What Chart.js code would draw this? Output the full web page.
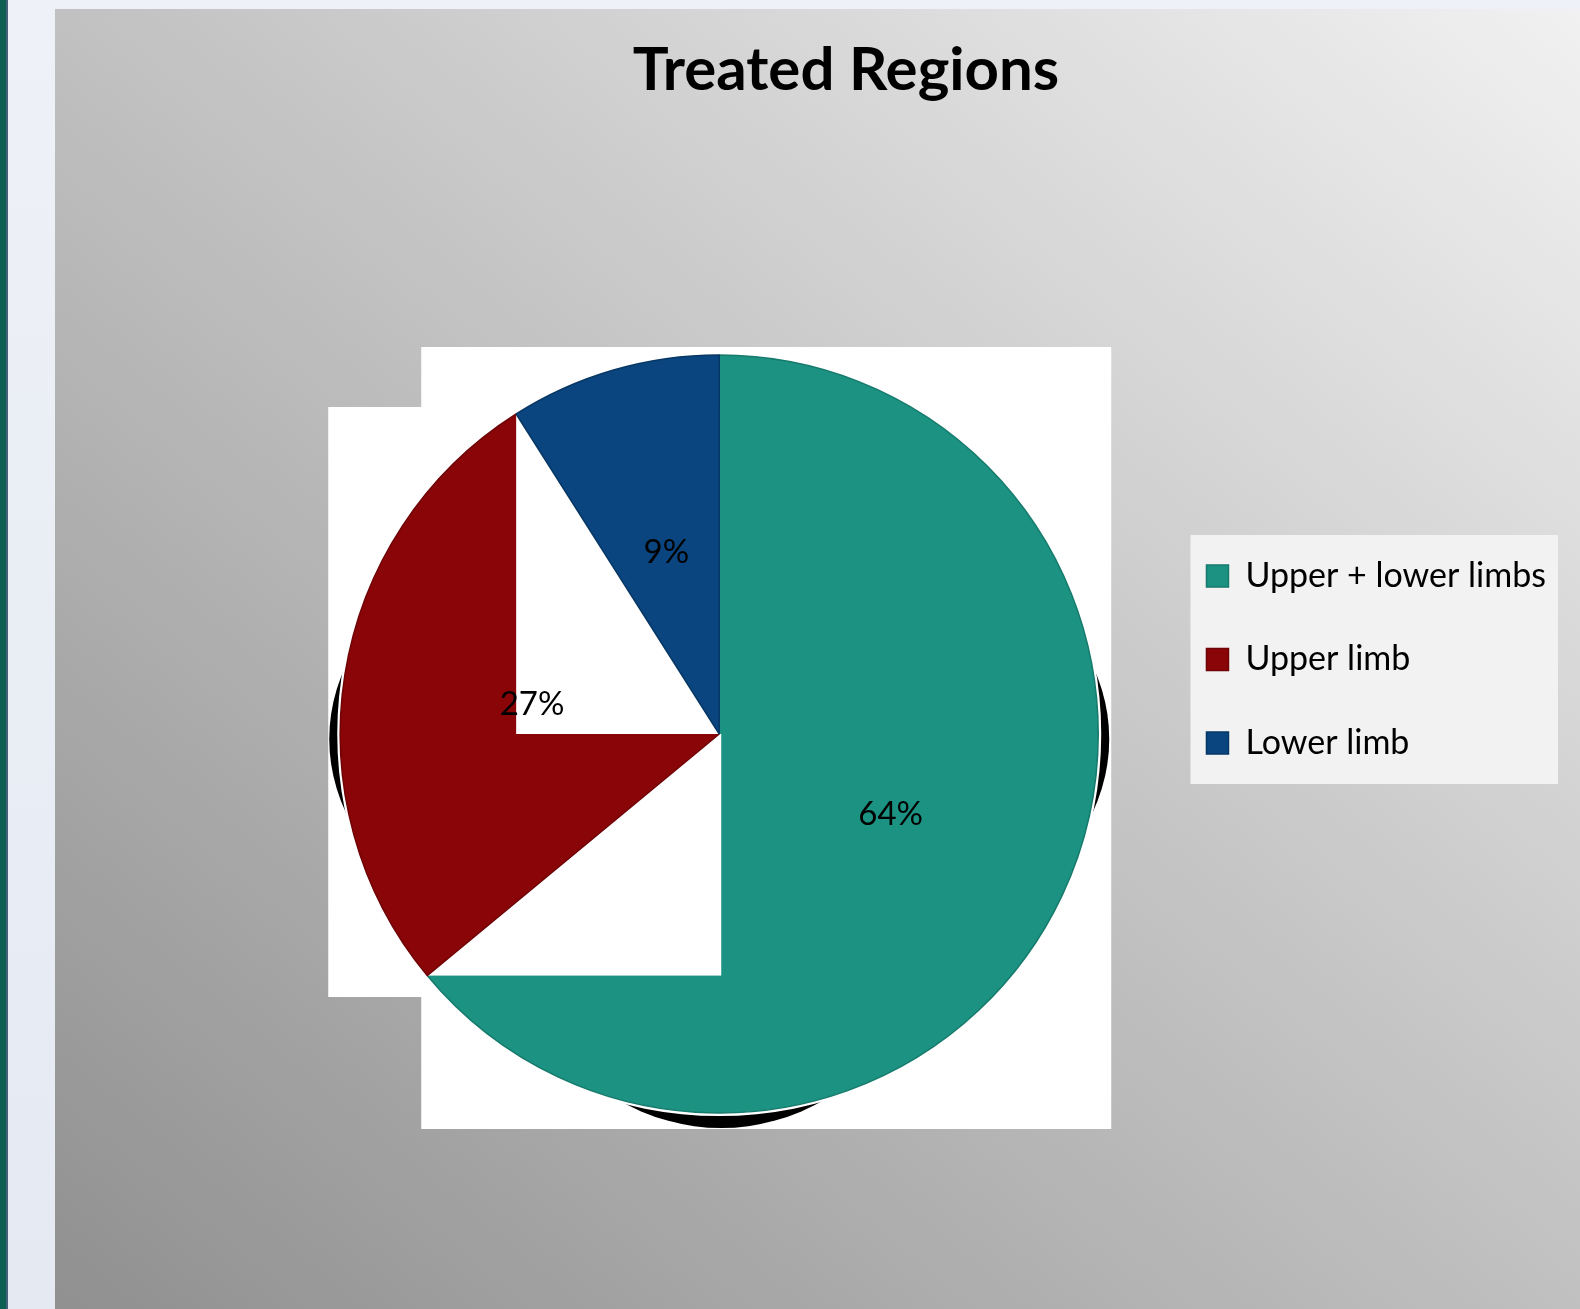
<!DOCTYPE html>
<html lang="en">
  <head>
    <meta charset="utf-8" />
    <title>Treated Regions</title>
    <style>
      body {
        margin: 0;
        width: 1580px;
        height: 1309px;
        overflow: hidden;
        position: relative;
        background: linear-gradient(#eef1f7, #e5e9f2);
      }
      #edge {
        position: absolute;
        left: 0;
        top: 0;
        width: 6px;
        height: 100%;
        background: #0f5e52;
        border-right: 2px solid #46607a;
      }
      #panel {
        position: absolute;
        left: 55px;
        top: 9px;
        right: 0;
        bottom: 0;
        background: linear-gradient(40deg, #909090, #f1f1f1);
      }
      #title {
        position: absolute;
        left: 546px;
        top: 31px;
        width: 600px;
        margin: 0;
        text-align: center;
        font: bold 60px/72px Lato, sans-serif;
        color: #000;
      }
      #wrap {
        position: absolute;
        left: 0;
        top: 0;
        width: 1580px;
        height: 1309px;
      }
    </style>
  </head>
  <body>
    <div id="edge"></div>
    <div id="panel"></div>
    <h1 id="title">Treated Regions</h1>
    <div id="wrap">
      <canvas id="canvas"></canvas>
    </div>

    <script src="https://cdn.jsdelivr.net/npm/chart.js"></script>

    <script>
      const regions = ["Upper + lower limbs", "Upper limb", "Lower limb"];
      const shares = [64, 27, 9];
      const sliceColors = ["#1b9282", "#8a0508", "#0a457f"];
      const sliceEdges = ["#167a6c", "#6f0306", "#073764"];

      Chart.defaults.font.family = "Lato, sans-serif";
      Chart.defaults.color = "#000";

      // grey box behind the legend entries
      const legendBox = {
        id: "legendBox",
        beforeDraw(chart) {
          const hb = chart.legend.legendHitBoxes;
          if (!hb || !hb.length) return;
          const left = hb[0].left - 16;
          const right = Math.max(...hb.map((b) => b.left + b.width)) + 12;
          const top = hb[0].top - 24;
          const last = hb[hb.length - 1];
          const bottom = last.top + last.height + 24;
          const ctx = chart.ctx;
          ctx.save();
          ctx.fillStyle = "#f2f2f2";
          ctx.fillRect(left, top, right - left, bottom - top);
          ctx.restore();
        },
      };

      // white backing, drop shadow and the cut-outs between slices
      const piePanels = {
        id: "piePanels",
        beforeDatasetDraw(chart, args) {
          const ctx = chart.ctx;
          const arcs = args.meta.data;
          const cx = arcs[0].x;
          const cy = arcs[0].y;
          const r = arcs[0].outerRadius;

          ctx.save();
          ctx.fillStyle = "#fff";
          ctx.beginPath();
          ctx.rect(cx - 298, cy - 387, 690, 782);
          ctx.rect(cx - 391, cy - 327, 93, 590);
          ctx.fill();
          ctx.clip();
          ctx.fillStyle = "#000";
          ctx.beginPath();
          ctx.ellipse(cx, cy + 5, r + 11, 255, 0, 0, Math.PI * 2);
          ctx.fill();
          ctx.beginPath();
          ctx.ellipse(cx + 2, cy + 8, 276, r + 7, 0, 0, Math.PI * 2);
          ctx.fill();
          ctx.restore();

          ctx.save();
          ctx.fillStyle = "#fff";
          ctx.beginPath();
          ctx.arc(cx, cy, r + 3, 0, Math.PI * 2);
          ctx.fill();
          ctx.restore();

          const tip = (a) => ({ x: cx + r * Math.cos(a), y: cy + r * Math.sin(a) });

          arcs[0].draw(ctx);
          const p0 = tip(arcs[0].endAngle);
          ctx.save();
          ctx.fillStyle = "#fff";
          ctx.fillRect(p0.x, cy, cx + 2 - p0.x, p0.y - cy);
          ctx.restore();

          arcs[1].draw(ctx);
          const p1 = tip(arcs[1].endAngle);
          ctx.save();
          ctx.fillStyle = "#fff";
          ctx.fillRect(p1.x, p1.y - 5, cx - p1.x, cy - p1.y + 5);
          ctx.restore();

          arcs[2].draw(ctx);
          return false;
        },
        afterDatasetsDraw(chart) {
          const ctx = chart.ctx;
          const meta = chart.getDatasetMeta(0);
          ctx.save();
          ctx.font = "33px Lato, sans-serif";
          ctx.fillStyle = "#000";
          ctx.textAlign = "center";
          ctx.textBaseline = "middle";
          meta.data.forEach((arc, i) => {
            const p = arc.tooltipPosition();
            ctx.fillText(shares[i] + "%", p.x, p.y);
          });
          ctx.restore();
        },
      };

      new Chart(document.getElementById("canvas"), {
        type: "pie",
        data: {
          labels: regions,
          datasets: [
            {
              data: shares,
              backgroundColor: sliceColors,
              borderColor: sliceEdges,
              borderWidth: 1.5,
              radius: 379,
              clip: false,
            },
          ],
        },
        options: {
          responsive: true,
          maintainAspectRatio: false,
          animation: false,
          events: [],
          layout: {
            padding: { left: 281.5, right: 24, top: 509.5, bottom: 350.5 },
          },
          plugins: {
            legend: {
              position: "right",
              align: "start",
              fullSize: false,
              labels: {
                boxWidth: 22,
                boxHeight: 22,
                padding: 49.5,
                font: { size: 34 },
                color: "#000",
              },
            },
            tooltip: { enabled: false },
          },
        },
        plugins: [legendBox, piePanels],
      });
    </script>
  </body>
</html>
